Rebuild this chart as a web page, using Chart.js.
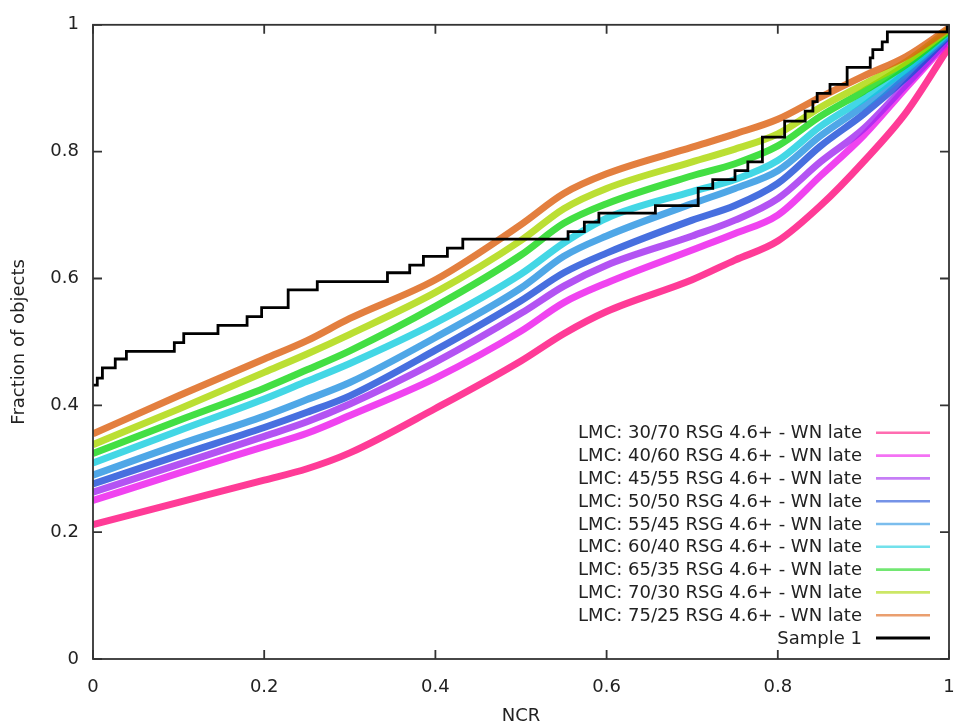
<!DOCTYPE html>
<html>
<head>
<meta charset="utf-8">
<script src="https://cdn.jsdelivr.net/npm/chart.js@4.4.1/dist/chart.umd.min.js"></script>
<style>
  html, body { margin: 0; padding: 0; background: #fff; overflow: hidden; }
  #wrap { width: 957px; height: 727px; }
</style>
</head>
<body>
<div id="wrap"><canvas id="ncr-chart"></canvas></div>
<script>
// NCR grid the model curves were read at
const ncr = [0, 0.1, 0.2, 0.25, 0.3, 0.4, 0.5, 0.55, 0.6, 0.7, 0.75, 0.8, 0.85, 0.9, 0.95, 1];

// Model cumulative fractions (LMC, RSG 4.6+ - WN late)
const lmc30_70 = [0.212, 0.247, 0.282, 0.300, 0.325, 0.395, 0.470, 0.513, 0.548, 0.598, 0.629, 0.659, 0.715, 0.784, 0.862, 0.965];
const lmc40_60 = [0.250, 0.293, 0.335, 0.356, 0.384, 0.443, 0.517, 0.562, 0.593, 0.645, 0.671, 0.700, 0.762, 0.825, 0.901, 0.975];
const lmc45_55 = [0.263, 0.307, 0.351, 0.374, 0.402, 0.468, 0.545, 0.588, 0.621, 0.667, 0.692, 0.726, 0.784, 0.836, 0.906, 0.978];
const lmc50_50 = [0.276, 0.321, 0.365, 0.389, 0.415, 0.487, 0.565, 0.609, 0.640, 0.692, 0.715, 0.750, 0.809, 0.859, 0.917, 0.983];
const lmc55_45 = [0.290, 0.338, 0.383, 0.409, 0.436, 0.507, 0.585, 0.635, 0.667, 0.718, 0.742, 0.770, 0.825, 0.872, 0.925, 0.985];
const lmc60_40 = [0.309, 0.360, 0.410, 0.438, 0.466, 0.530, 0.607, 0.656, 0.695, 0.737, 0.756, 0.786, 0.840, 0.883, 0.930, 0.988];
const lmc65_35 = [0.324, 0.376, 0.427, 0.456, 0.486, 0.556, 0.637, 0.687, 0.718, 0.762, 0.781, 0.809, 0.856, 0.895, 0.937, 0.990];
const lmc70_30 = [0.338, 0.394, 0.452, 0.481, 0.512, 0.578, 0.660, 0.710, 0.742, 0.784, 0.804, 0.828, 0.870, 0.906, 0.942, 0.993];
const lmc75_25 = [0.355, 0.415, 0.473, 0.502, 0.537, 0.598, 0.685, 0.734, 0.765, 0.807, 0.828, 0.851, 0.886, 0.919, 0.950, 0.995];

const modelLabels = [
  "LMC: 30/70 RSG 4.6+ - WN late",
  "LMC: 40/60 RSG 4.6+ - WN late",
  "LMC: 45/55 RSG 4.6+ - WN late",
  "LMC: 50/50 RSG 4.6+ - WN late",
  "LMC: 55/45 RSG 4.6+ - WN late",
  "LMC: 60/40 RSG 4.6+ - WN late",
  "LMC: 65/35 RSG 4.6+ - WN late",
  "LMC: 70/30 RSG 4.6+ - WN late",
  "LMC: 75/25 RSG 4.6+ - WN late",
];
const modelSeries = [lmc30_70, lmc40_60, lmc45_55, lmc50_50, lmc55_45, lmc60_40, lmc65_35, lmc70_30, lmc75_25];
// base RGB of each model family; curves are drawn semi-transparent like the original
const modelRgb = [
  "255, 10, 125",
  "236, 20, 236",
  "160, 40, 240",
  "25, 75, 215",
  "35, 145, 225",
  "20, 205, 222",
  "20, 215, 20",
  "170, 215, 0",
  "220, 95, 15",
];

// Observed sample: empirical CDF steps (NCR where the step starts, new fraction)
const sampleNcr = [0, 0.005, 0.011, 0.026, 0.039, 0.095, 0.106, 0.146, 0.180, 0.197, 0.228, 0.262,
  0.344, 0.370, 0.386, 0.414, 0.432, 0.555, 0.574, 0.591, 0.657, 0.707, 0.724, 0.750, 0.765,
  0.782, 0.808, 0.832, 0.841, 0.846, 0.861, 0.881, 0.908, 0.911, 0.922, 0.928, 0.998];
const sampleFrac = [0.432, 0.443, 0.459, 0.473, 0.485, 0.499, 0.513, 0.526, 0.540, 0.554, 0.582, 0.595,
  0.609, 0.621, 0.635, 0.648, 0.662, 0.674, 0.689, 0.703, 0.715, 0.742, 0.756, 0.770, 0.784,
  0.823, 0.848, 0.864, 0.879, 0.892, 0.906, 0.933, 0.948, 0.961, 0.973, 0.989, 1.0];

const FONT = '"DejaVu Sans", sans-serif';
const FS = 18;

/**
 * Gnuplot-style frame: full border with inward ticks on all four sides.
 */
const framePlugin = {
  id: "frame",
  afterDraw(chart) {
    const { ctx, chartArea: a, scales } = chart;
    const tl = 9;
    ctx.save();
    ctx.strokeStyle = "#333";
    ctx.lineWidth = 1.8;
    ctx.strokeRect(a.left, a.top, a.right - a.left, a.bottom - a.top);
    ctx.beginPath();
    scales.x.ticks.forEach(t => {
      const px = scales.x.getPixelForValue(t.value);
      ctx.moveTo(px, a.bottom); ctx.lineTo(px, a.bottom - tl);
      ctx.moveTo(px, a.top); ctx.lineTo(px, a.top + tl);
    });
    scales.y.ticks.forEach(t => {
      const py = scales.y.getPixelForValue(t.value);
      ctx.moveTo(a.left, py); ctx.lineTo(a.left + tl, py);
      ctx.moveTo(a.right, py); ctx.lineTo(a.right - tl, py);
    });
    ctx.stroke();
    ctx.restore();
  },
};

/**
 * Key in the lower right of the plot: text right-aligned, sample line after it.
 */
const keyPlugin = {
  id: "key",
  afterDraw(chart) {
    const { ctx, chartArea: a } = chart;
    const items = chart.data.datasets.slice().sort((p, q) => p.keyOrder - q.keyOrder);
    const rowH = 22.8;
    const textRight = a.right - 87;
    ctx.save();
    ctx.font = FS + "px " + FONT;
    ctx.textAlign = "right";
    ctx.textBaseline = "middle";
    items.forEach((ds, i) => {
      const y = a.bottom - 21 - (items.length - 1 - i) * rowH;
      ctx.fillStyle = "#222";
      ctx.fillText(ds.label, textRight, y + 1);
      ctx.strokeStyle = ds.keyColor;
      ctx.lineWidth = ds.keyWidth;
      ctx.beginPath();
      ctx.moveTo(a.right - 73, y);
      ctx.lineTo(a.right - 19, y);
      ctx.stroke();
    });
    ctx.restore();
  },
};

const datasets = [{
  label: "Sample 1",
  data: sampleNcr.map((x, i) => ({ x, y: sampleFrac[i] })),
  borderColor: "#000",
  borderWidth: 2.8,
  stepped: true,
  pointRadius: 0,
  fill: false,
  keyOrder: 99,
  keyColor: "#000",
  keyWidth: 2.8,
}];
// later datasets are drawn underneath, so push orange first and pink last
for (let k = modelSeries.length - 1; k >= 0; k--) {
  datasets.push({
    label: modelLabels[k],
    data: ncr.map((x, i) => ({ x, y: modelSeries[k][i] })),
    borderColor: "rgba(" + modelRgb[k] + ", 0.8)",
    borderWidth: 7,
    cubicInterpolationMode: "monotone",
    pointRadius: 0,
    fill: false,
    keyOrder: k,
    keyColor: "rgba(" + modelRgb[k] + ", 0.6)",
    keyWidth: 2.6,
  });
}

const tickText = v => String(Number(v.toFixed(2)));

new Chart(document.getElementById("ncr-chart"), {
  type: "line",
  data: { datasets },
  plugins: [framePlugin, keyPlugin],
  options: {
    responsive: true,
    maintainAspectRatio: false,
    animation: false,
    layout: { padding: { top: 20, right: 8, left: 0, bottom: 0 } },
    plugins: {
      legend: { display: false },
      tooltip: { enabled: false },
    },
    scales: {
      x: {
        type: "linear",
        min: 0,
        max: 1,
        grid: { display: false, drawTicks: false },
        border: { display: false },
        ticks: { stepSize: 0.2, padding: 18, color: "#222", font: { family: FONT, size: FS }, callback: tickText },
        title: { display: true, text: "NCR", color: "#222", padding: { top: 0, bottom: 0 }, font: { family: FONT, size: FS } },
        afterFit(scale) {
          scale.height = 68;
          scale.paddingLeft = 0;
          scale.paddingRight = 0;
        },
      },
      y: {
        type: "linear",
        min: 0,
        max: 1,
        grid: { display: false, drawTicks: false },
        border: { display: false },
        ticks: { stepSize: 0.2, padding: 14, color: "#222", font: { family: FONT, size: FS }, callback: tickText },
        title: { display: true, text: "Fraction of objects", color: "#222", padding: { top: 9, bottom: 0 }, font: { family: FONT, size: FS } },
        afterFit(scale) { scale.width = 93; },
      },
    },
  },
});
</script>
</body>
</html>
